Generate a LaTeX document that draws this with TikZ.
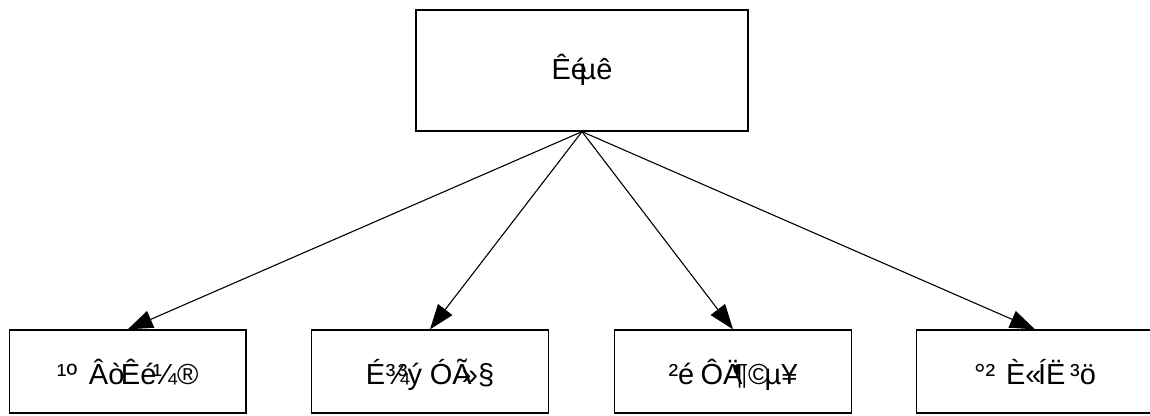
\documentclass[tikz,border=0pt]{standalone}
\usepackage{fontspec}
\setmainfont{Liberation Sans}
\usetikzlibrary{arrows.meta}
\newlength\pairw
\newcommand\gbpair[1]{\makebox[\pairw][l]{#1}}
\begin{document}
\begin{tikzpicture}[x=1pt,y=-1pt,
  box/.style={draw=black,line width=1.3pt,rectangle,inner sep=0pt},
  topbox/.style={box,minimum width=332pt,minimum height=121pt,
    text height=17pt,text depth=0pt,
    font={\fontsize{29}{34}\selectfont\setlength\pairw{28pt}}},
  leafbox/.style={box,minimum width=236.5pt,minimum height=83pt,
    text height=25pt,text depth=0pt,
    font={\fontsize{29}{34}\selectfont\setlength\pairw{32pt}}},
  link/.style={line width=1.1pt,-{Triangle[length=25pt,width=18pt]}}]
\useasboundingbox (0,0) rectangle (1150,415);
\node[topbox] (root) at (582,70.5) {\gbpair{Êé}µê};
\node[leafbox] (a) at (127.75,371.5) {\gbpair{¹º}\gbpair{Âò}\gbpair{Êé}¼®};
\node[leafbox] (b) at (430,371.5) {\gbpair{É¾}\gbpair{³ý}\gbpair{ÓÃ}»§};
\node[leafbox] (c) at (733,371.5) {\gbpair{²é}\gbpair{ÔÄ}\gbpair{¶©}µ¥};
\node[leafbox] (d) at (1035,371.5) {\gbpair{°²}\gbpair{È«}\gbpair{ÍË}³ö};
\draw[link] (root.south) -- (a.north);
\draw[link] (root.south) -- (b.north);
\draw[link] (root.south) -- (c.north);
\draw[link] (root.south) -- (d.north);
\end{tikzpicture}
\end{document}
